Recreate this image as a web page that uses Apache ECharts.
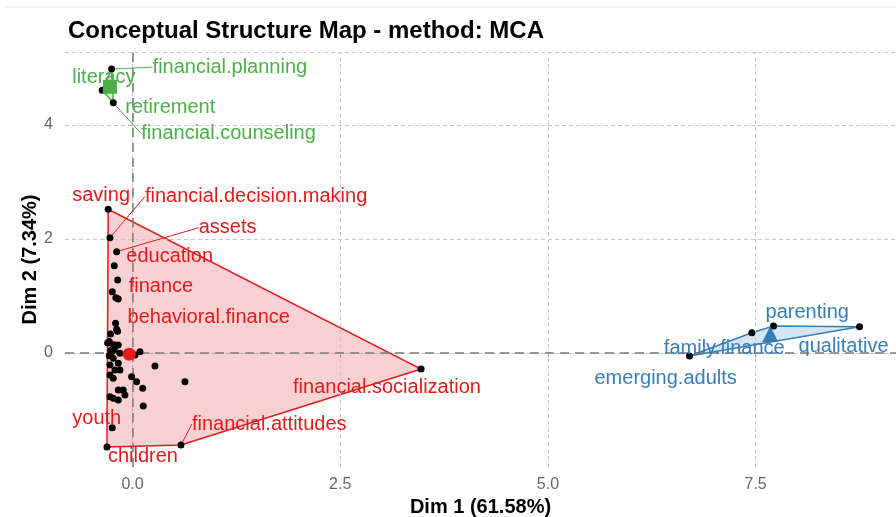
<!DOCTYPE html>
<html>
<head>
<meta charset="utf-8">
<script src="https://cdn.jsdelivr.net/npm/echarts@6/dist/echarts.min.js"></script>
<style>
  html, body { margin: 0; padding: 0; background: #fff; }
  #chart { width: 896px; height: 517px; }
</style>
</head>
<body>
<div id="chart"></div>
<script>
// cluster 1 (red), labelled words
const redNames = ['saving', 'financial.decision.making', 'assets', 'education', 'finance',
  'behavioral.finance', 'financial.socialization', 'financial.attitudes', 'youth', 'children'];
const redX = [-0.293, -0.272, -0.191, -0.220, -0.179, -0.204, 3.473, 0.583, -0.244, -0.308];
const redY = [2.521, 2.023, 1.777, 1.532, 1.281, 0.521, -0.281, -1.614, -1.311, -1.649];

// cluster 1, points whose labels were dropped
const redOtherX = [-0.244, -0.172, -0.200, -0.191, -0.264, -0.300, -0.212, -0.232, -0.172, -0.252,
  -0.152, 0.089, 0.029, -0.232, -0.272, -0.172, -0.212, -0.152, 0.270, -0.011,
  0.049, 0.122, 0.631, -0.272, -0.232, -0.172, -0.112, -0.232, -0.172, -0.092,
  -0.272, 0.129, -0.280, -0.260, -0.220, -0.280, -0.180];
const redOtherY = [1.075, 0.947, 0.970, 0.416, 0.333, 0.175, 0.140, 0.140, 0.140, 0.023,
  -0.005, 0.023, -0.035, -0.093, -0.211, -0.181, -0.298, -0.298, -0.228, -0.416,
  -0.504, -0.619, -0.504, -0.386, -0.444, -0.649, -0.649, -0.795, -0.825, -0.737,
  -0.767, -0.930, 0.200, 0.050, 0.060, -0.050, 0.380];

// cluster 2 (green)
const greenNames = ['literacy', 'financial.planning', 'retirement', 'financial.counseling'];
const greenX = [-0.365, -0.252, -0.244, -0.232];
const greenY = [4.61, 4.98, 4.68, 4.39];

// cluster 3 (blue)
const blueNames = ['qualitative', 'parenting', 'family.finance', 'emerging.adults'];
const blueX = [8.751, 7.716, 7.455, 6.704];
const blueY = [0.460, 0.474, 0.356, -0.053];

// cluster centres
const centreRed = [-0.04, -0.02];
const centreGreen = [-0.272, 4.67];
const centreBlue = [7.676, 0.333];

// tick labels
const xTicks = [0, 2.5, 5, 7.5];
const yTicks = [0, 2, 4];

const RED = '#E41A1C', GREEN = '#4DAF4A', BLUE = '#377EB8';
const FONT = 'Liberation Sans';

// label placement, pixels from the point to the label's left-middle
const nudge = {
  'saving': [-36, -14], 'financial.decision.making': [35, -41], 'assets': [82, -24],
  'education': [12, -9], 'finance': [11, 7], 'behavioral.finance': [12, -6],
  'financial.socialization': [-128, 18], 'financial.attitudes': [11, -21],
  'youth': [-40, -9], 'children': [1, 9],
  'literacy': [-30, -13], 'financial.planning': [41, -2], 'retirement': [13, 21],
  'financial.counseling': [28, 31],
  'parenting': [-8, -13], 'family.finance': [-88, 16], 'qualitative': [-61, 20],
  'emerging.adults': [-95, 22]
};
const withLine = ['financial.decision.making', 'assets', 'financial.attitudes',
  'financial.planning', 'financial.counseling'];

function zipPts(xs, ys) { return xs.map((x, i) => [x, ys[i]]); }

function hull(pts) {
  const p = pts.slice().sort((a, b) => a[0] - b[0] || a[1] - b[1]);
  const cross = (o, a, b) => (a[0] - o[0]) * (b[1] - o[1]) - (a[1] - o[1]) * (b[0] - o[0]);
  const lower = [], upper = [];
  for (const q of p) {
    while (lower.length >= 2 && cross(lower[lower.length - 2], lower[lower.length - 1], q) <= 0) lower.pop();
    lower.push(q);
  }
  for (let i = p.length - 1; i >= 0; i--) {
    const q = p[i];
    while (upper.length >= 2 && cross(upper[upper.length - 2], upper[upper.length - 1], q) <= 0) upper.pop();
    upper.push(q);
  }
  upper.pop(); lower.pop();
  return lower.concat(upper);
}

const redAll = zipPts(redX, redY).concat(zipPts(redOtherX, redOtherY));
const hulls = [
  { pts: hull(redAll), color: RED, fill: 'rgba(228,26,28,0.2)' },
  { pts: hull(zipPts(greenX, greenY)), color: GREEN, fill: 'rgba(77,175,74,0.2)' },
  { pts: hull(zipPts(blueX, blueY)), color: BLUE, fill: 'rgba(55,126,184,0.2)' }
];

function labelled(names, xs, ys, color) {
  return {
    type: 'scatter',
    z: 5,
    symbolSize: 7,
    itemStyle: { color: '#000', opacity: 1 },
    data: names.map((n, i) => ({
      name: n, value: [xs[i], ys[i]],
      labelLine: { show: withLine.indexOf(n) >= 0 }
    })),
    label: {
      show: true, formatter: '{b}', color: color, fontSize: 20, fontFamily: FONT
    },
    labelLine: { show: false, lineStyle: { color: color, width: 1, opacity: 1 } },
    labelLayout: function (params) {
      const d = nudge[params.text] || [8, 0];
      return {
        x: params.rect.x + params.rect.width / 2 + d[0],
        y: params.rect.y + params.rect.height / 2 + d[1],
        align: 'left', verticalAlign: 'middle'
      };
    }
  };
}

const chart = echarts.init(document.getElementById('chart'), null, { renderer: 'canvas' });

chart.setOption({
  animation: false,
  backgroundColor: '#fff',
  title: {
    text: 'Conceptual Structure Map - method: MCA',
    left: 63, top: 14,
    textStyle: { fontFamily: FONT, fontWeight: 'bold', fontSize: 24, color: '#000' }
  },
  graphic: [{
    type: 'line', shape: { x1: 5, y1: 7, x2: 896, y2: 7 },
    style: { stroke: '#e6e6e6', lineWidth: 1 }
  }],
  grid: { left: 65, right: 0, top: 52, bottom: 50, outerBoundsMode: 'none', containLabel: false },
  xAxis: {
    type: 'value', min: -0.813, max: 9.19,
    name: 'Dim 1 (61.58%)', nameLocation: 'middle', nameGap: 29,
    nameTextStyle: { fontFamily: FONT, fontWeight: 'bold', fontSize: 20, color: '#000' },
    axisLine: { show: true, lineStyle: { color: '#c8c8c8', type: [4, 3], width: 1 } },
    axisTick: { show: true, customValues: xTicks, length: 4, lineStyle: { color: '#888' } },
    axisLabel: {
      customValues: xTicks, margin: 10, color: '#666', fontSize: 16, fontFamily: FONT,
      formatter: v => v.toFixed(1)
    },
    splitLine: { show: false }
  },
  yAxis: {
    type: 'value', min: -2.0, max: 5.28,
    name: 'Dim 2 (7.34%)', nameLocation: 'middle', nameGap: 25, nameMoveOverlap: false,
    nameTextStyle: { fontFamily: FONT, fontWeight: 'bold', fontSize: 20, color: '#000' },
    axisLine: { show: true, lineStyle: { color: '#c8c8c8', type: [4, 3], width: 1 } },
    axisTick: { show: true, customValues: yTicks, length: 4, lineStyle: { color: '#888' } },
    axisLabel: {
      customValues: yTicks, margin: 12, color: '#666', fontSize: 16, fontFamily: FONT,
      formatter: v => String(v)
    },
    splitLine: { show: false }
  },
  series: [
    {
      type: 'line', data: [], z: 1,
      markLine: {
        silent: true, symbol: 'none', label: { show: false },
        lineStyle: { color: '#c8c8c8', type: [4, 3], width: 1 },
        data: xTicks.filter(v => v !== 0).map(v => ({ xAxis: v }))
          .concat(yTicks.filter(v => v !== 0).map(v => ({ yAxis: v })))
          .concat([{ yAxis: 5.28 }])
      }
    },
    {
      type: 'line', data: [], z: 4,
      markLine: {
        silent: true, symbol: 'none', label: { show: false },
        lineStyle: { color: '#7a7a7a', type: [9, 6], width: 1.5 },
        data: [{ xAxis: 0 }, { yAxis: 0 }]
      }
    },
    {
      type: 'custom', z: 2,
      data: hulls.map((h, i) => [i]),
      renderItem: function (params, api) {
        const h = hulls[params.dataIndex];
        return {
          type: 'polygon',
          shape: { points: h.pts.map(p => api.coord(p)) },
          style: { fill: h.fill, stroke: h.color, lineWidth: 1.5 }
        };
      }
    },
    {
      type: 'scatter', z: 5, symbolSize: 7,
      itemStyle: { color: '#000', opacity: 1 },
      data: zipPts(redOtherX, redOtherY)
    },
    labelled(redNames, redX, redY, RED),
    labelled(greenNames, greenX, greenY, GREEN),
    labelled(blueNames, blueX, blueY, BLUE),
    { type: 'scatter', z: 6, symbol: 'circle', symbolSize: 13, itemStyle: { color: RED, opacity: 1 }, data: [centreRed] },
    { type: 'scatter', z: 6, symbol: 'rect', symbolSize: 14, itemStyle: { color: GREEN, opacity: 1 }, data: [centreGreen] },
    { type: 'scatter', z: 6, symbol: 'triangle', symbolSize: 16, itemStyle: { color: BLUE, opacity: 1 }, data: [centreBlue] }
  ]
});
</script>
</body>
</html>
